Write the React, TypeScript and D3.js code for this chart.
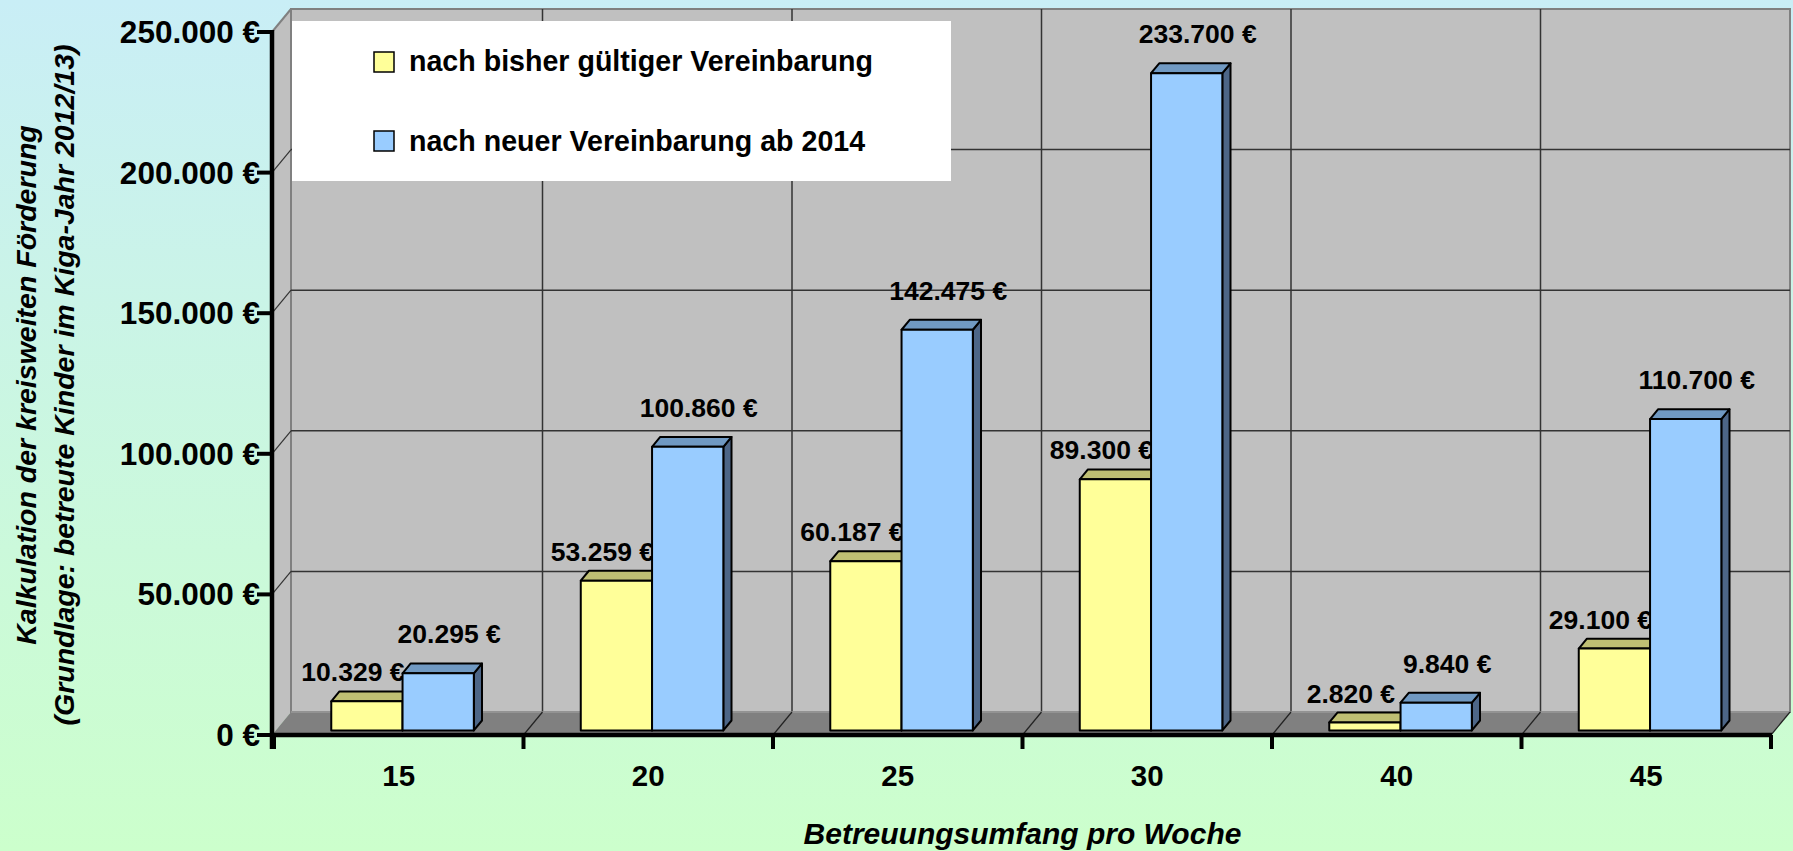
import React from 'react';
import * as d3 from 'd3';

const categories = ["15", "20", "25", "30", "40", "45"];
const seriesNames = ["nach bisher gültiger Vereinbarung", "nach neuer Vereinbarung ab 2014"];
const bisherValues = [10329, 53259, 60187, 89300, 2820, 29100];
const neuValues = [20295, 100860, 142475, 233700, 9840, 110700];
const yTickValues = [0, 50000, 100000, 150000, 200000, 250000];
const xAxisTitle = "Betreuungsumfang pro Woche";
const yAxisTitleLines = [
  "Kalkulation der kreisweiten Förderung",
  "(Grundlage: betreute Kinder im Kiga-Jahr 2012/13)",
];

const W = 1793;
const H = 851;
const DX = 19;
const DY = 23;
const T0 = 0.2;
const T1 = 0.63;
const FONT = "'Liberation Sans', Arial, Helvetica, sans-serif";

const COLORS = [
  { front: "#FFFF99", top: "#BFBF73", side: "#99995C" },
  { front: "#99CCFF", top: "#7099C2", side: "#4D6687" },
];

const locale = d3.formatLocale({ decimal: ",", thousands: ".", grouping: [3], currency: ["", " €"] });
const fmtNum = locale.format(",.0f");
const fmt = (v: number) => fmtNum(v) + " €";

type Pt = [number, number];
const P = (X: number, Y: number, t: number): Pt => [X + t * DX, Y - t * DY];
const poly = (pts: Pt[]) => pts.map((p) => p.join(",")).join(" ");

export default function App() {
  const X0 = 274;
  const X1 = 1771;
  const x = d3.scaleBand<string>().domain(categories).range([X0, X1]).paddingInner(0).paddingOuter(0);
  const y = d3.scaleLinear().domain([0, 250000]).range([735, 32]);
  const bw = x.bandwidth() / 3.5;
  const xs = d3.scaleBand<number>().domain([0, 1]).range([0, 2 * bw]);
  const yBase = y(0);
  const yTop = y(250000);
  const wallL = 272;
  const boundaries = categories.map((c) => x(c) as number).concat([X1]);

  const series = [bisherValues, neuValues];

  const bars = categories.map((c, i) => {
    const start = (x(c) as number) + 0.75 * bw;
    return series.map((vals, s) => {
      const v = vals[i];
      const x0 = start + (xs(s) as number);
      const x1 = x0 + bw;
      const yv = y(v);
      const col = COLORS[s];
      const fTL = P(x0, yv, T0);
      const fTR = P(x1, yv, T0);
      const fBR = P(x1, yBase, T0);
      const fBL = P(x0, yBase, T0);
      const bTL = P(x0, yv, T1);
      const bTR = P(x1, yv, T1);
      const bBR = P(x1, yBase, T1);
      const cx = (fTL[0] + fTR[0]) / 2;
      const lx = s === 0 ? cx - 14 : cx + 11;
      const ly = s === 0 ? bTL[1] - 10 : bTL[1] - 20;
      return (
        <g key={c + s}>
          <polygon points={poly([fTR, fBR, bBR, bTR])} fill={col.side} stroke="#000" strokeWidth={2} strokeLinejoin="round" />
          <polygon points={poly([fTL, fTR, bTR, bTL])} fill={col.top} stroke="#000" strokeWidth={2} strokeLinejoin="round" />
          <polygon points={poly([fTL, fTR, fBR, fBL])} fill={col.front} stroke="#000" strokeWidth={2} strokeLinejoin="round" />
          <text x={lx} y={ly} textAnchor="middle" fontFamily={FONT} fontWeight="bold" fontSize={26.5} fill="#000">
            {fmt(v)}
          </text>
        </g>
      );
    });
  });

  return (
    <svg width={W} height={H} style={{ position: "absolute", left: 0, top: 0, display: "block" }}>
      <defs>
        <linearGradient id="bg" x1="0" y1="0" x2="0" y2="1">
          <stop offset="0" stopColor="#C9EEF6" />
          <stop offset="1" stopColor="#CCFFCC" />
        </linearGradient>
      </defs>
      <rect x={0} y={0} width={W} height={H} fill="url(#bg)" />

      {/* side wall */}
      <polygon
        points={poly([[wallL, yTop], [wallL + DX, yTop - DY], [wallL + DX, yBase - DY], [wallL, yBase]])}
        fill="#C0C0C0"
      />
      {/* back wall */}
      <rect x={wallL + DX} y={yTop - DY} width={X1 - wallL} height={yBase - yTop} fill="#C0C0C0" stroke="#808080" strokeWidth={2} />
      <line x1={wallL} y1={yTop} x2={wallL + DX} y2={yTop - DY} stroke="#808080" strokeWidth={2} />

      {/* horizontal gridlines */}
      {yTickValues.filter((v) => v > 0 && v < 250000).map((v) => (
        <g key={"g" + v}>
          <line x1={wallL + DX} y1={y(v) - DY} x2={X1 + DX} y2={y(v) - DY} stroke="#333" strokeWidth={1.5} />
          <line x1={wallL} y1={y(v)} x2={wallL + DX} y2={y(v) - DY} stroke="#333" strokeWidth={1.2} />
        </g>
      ))}
      {/* vertical gridlines */}
      {boundaries.slice(1, -1).map((b, i) => (
        <line key={"v" + i} x1={b + DX} y1={yTop - DY} x2={b + DX} y2={yBase - DY} stroke="#333" strokeWidth={1.5} />
      ))}

      {/* floor */}
      <polygon
        points={poly([[wallL, yBase], [wallL + DX, yBase - DY], [X1 + DX, yBase - DY], [X1, yBase]])}
        fill="#808080"
      />
      <line x1={wallL + DX} y1={yBase - DY} x2={X1 + DX} y2={yBase - DY} stroke="#9A9A9A" strokeWidth={1.5} />
      {boundaries.slice(1).map((b, i) => (
        <line key={"f" + i} x1={b} y1={yBase} x2={b + DX} y2={yBase - DY} stroke="#222" strokeWidth={1.2} />
      ))}

      {/* legend */}
      <rect x={292} y={21} width={659} height={160} fill="#FFFFFF" />
      {seriesNames.map((name, s) => (
        <g key={name}>
          <rect x={374} y={52 + s * 79} width={20} height={20} fill={COLORS[s].front} stroke="#000" strokeWidth={1.5} />
          <text x={409} y={71 + s * 80} fontFamily={FONT} fontWeight="bold" fontSize={28.6} fill="#000">
            {name}
          </text>
        </g>
      ))}

      {/* bars */}
      {bars}

      {/* y tick labels and ticks */}
      {yTickValues.map((v) => (
        <g key={"t" + v}>
          <text x={260} y={y(v) + 11} textAnchor="end" fontFamily={FONT} fontWeight="bold" fontSize={31.5} fill="#000">
            {fmt(v)}
          </text>
          <line x1={257} y1={y(v)} x2={274} y2={y(v)} stroke="#000" strokeWidth={4} />
        </g>
      ))}

      {/* axes */}
      <line x1={wallL} y1={yTop - 2} x2={wallL} y2={yBase + 14} stroke="#000" strokeWidth={4.5} />
      <line x1={wallL} y1={yBase} x2={X1 + 1} y2={yBase} stroke="#000" strokeWidth={4.5} />
      {boundaries.map((b, i) => (
        <line key={"xt" + i} x1={b} y1={yBase} x2={b} y2={yBase + 14} stroke="#000" strokeWidth={4} />
      ))}

      {/* category labels */}
      {categories.map((c) => (
        <text key={"c" + c} x={(x(c) as number) + x.bandwidth() / 2} y={786} textAnchor="middle" fontFamily={FONT} fontWeight="bold" fontSize={29.5} fill="#000">
          {c}
        </text>
      ))}

      {/* axis titles */}
      <text x={(X0 + X1) / 2} y={844} textAnchor="middle" fontFamily={FONT} fontWeight="bold" fontStyle="italic" fontSize={30} fill="#000">
        {xAxisTitle}
      </text>
      {yAxisTitleLines.map((line, i) => (
        <text
          key={"yt" + i}
          transform={`translate(${35.5 + i * 38},385) rotate(-90)`}
          textAnchor="middle"
          fontFamily={FONT}
          fontWeight="bold"
          fontStyle="italic"
          fontSize={28.5}
          fill="#000"
        >
          {line}
        </text>
      ))}
    </svg>
  );
}
